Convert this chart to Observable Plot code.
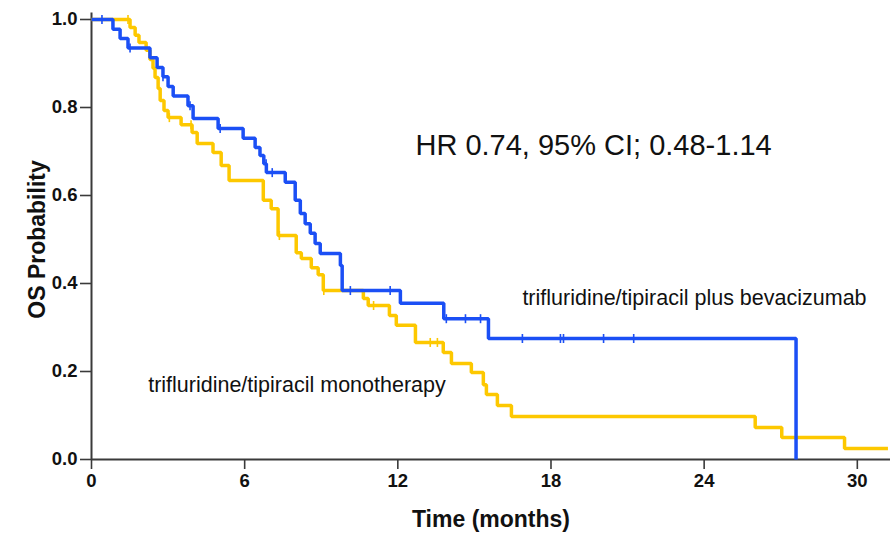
<!DOCTYPE html>
<html>
<head>
<meta charset="utf-8">
<script src="https://cdn.jsdelivr.net/npm/d3@7"></script>
<script src="https://cdn.jsdelivr.net/npm/@observablehq/plot@0.6"></script>
<style>
  html, body { margin: 0; padding: 0; background: #fff; }
  #chart { width: 893px; height: 534px; }
</style>
</head>
<body>
<div id="chart"></div>
<script>
// ---- Data ----
// trifluridine/tipiracil plus bevacizumab: step times (months) and survival after each step
const blueTime = [0, 0.84, 1.12, 1.43, 2.29, 2.57, 2.80, 3.00, 3.20, 3.78, 3.98, 4.96, 5.94, 6.41, 6.60, 6.75, 6.85, 7.59, 7.98, 8.18, 8.37, 8.57, 8.76, 8.96, 9.75, 9.82, 12.10, 13.80, 15.55, 27.60];
const blueSurv = [1.0, 0.978, 0.957, 0.935, 0.913, 0.891, 0.870, 0.848, 0.826, 0.804, 0.775, 0.752, 0.730, 0.709, 0.691, 0.672, 0.652, 0.630, 0.589, 0.559, 0.536, 0.514, 0.491, 0.468, 0.441, 0.384, 0.355, 0.320, 0.275, 0.0];
const blueCensored = [0.41, 1.51, 2.80, 3.86, 5.04, 6.84, 7.08, 10.14, 11.70, 13.90, 14.65, 15.24, 16.88, 18.37, 18.49, 20.06, 21.24];

// trifluridine/tipiracil monotherapy
const yellowTime = [0, 1.51, 1.71, 1.86, 2.14, 2.29, 2.41, 2.49, 2.61, 2.69, 2.84, 3.00, 3.51, 3.94, 4.14, 4.76, 5.08, 5.39, 6.73, 7.04, 7.31, 8.02, 8.22, 8.61, 8.88, 9.08, 10.65, 10.84, 11.67, 11.94, 12.69, 13.78, 14.10, 14.88, 15.35, 15.47, 15.90, 16.45, 26.00, 27.04, 29.50, 31.20];
const yellowSurv = [1.0, 0.982, 0.964, 0.948, 0.930, 0.909, 0.889, 0.868, 0.843, 0.816, 0.793, 0.777, 0.761, 0.743, 0.718, 0.698, 0.668, 0.634, 0.589, 0.570, 0.509, 0.470, 0.457, 0.436, 0.420, 0.384, 0.366, 0.350, 0.327, 0.305, 0.266, 0.243, 0.218, 0.198, 0.170, 0.148, 0.123, 0.098, 0.073, 0.050, 0.025, 0.025];
const yellowCensored = [1.43, 3.05, 3.90, 7.36, 9.10, 11.05, 13.27, 13.55];

const xTicks = [0, 6, 12, 18, 24, 30];
const yTicks = [0, 0.2, 0.4, 0.6, 0.8, 1.0];

const annoText = ["HR 0.74, 95% CI; 0.48-1.14", "trifluridine/tipiracil plus bevacizumab", "trifluridine/tipiracil monotherapy"];
const annoX = [12.69, 16.88, 2.22];
const annoY = [0.714, 0.366, 0.170];

// ---- Build tables ----
const blueColor = "#1b4ff5";
const yellowColor = "#fdc800";

const toRows = (T, S) => T.map((t, i) => ({t, s: S[i]}));
const blue = toRows(blueTime, blueSurv);
const yellow = toRows(yellowTime, yellowSurv);
const survAt = (T, S, t) => { let v = S[0]; for (let i = 0; i < T.length; i++) if (T[i] <= t) v = S[i]; return v; };
const blueCens = blueCensored.map(t => ({t, s: survAt(blueTime, blueSurv, t)}));
const yellowCens = yellowCensored.map(t => ({t, s: survAt(yellowTime, yellowSurv, t)}));
const annos = annoText.map((label, i) => ({label, t: annoX[i], s: annoY[i], size: i === 0 ? 29 : 21.5}));

const vbar = { draw(ctx, size) { const r = Math.sqrt(size / Math.PI); ctx.moveTo(0, -r); ctx.lineTo(0, r); } };
const axisColor = "#3a3a3a";
const font = "'Liberation Sans', Arial, Helvetica, sans-serif";

const chart = Plot.plot({
  width: 893,
  height: 534,
  marginLeft: 91,
  marginRight: 3,
  marginTop: 19,
  marginBottom: 75,
  style: { fontFamily: font, background: "#fff", color: "#111" },
  x: { domain: [0, 31.3] },
  y: { domain: [0, 1] },
  marks: [
    Plot.axisY({ ticks: yTicks, tickFormat: d3.format(".1f"), tickSize: 11, tickPadding: 3, fontSize: 18.5, fontWeight: "bold", stroke: axisColor, strokeWidth: 1.6, label: null, fill: "#111" }),
    Plot.axisX({ ticks: xTicks, tickFormat: d => String(d), tickSize: 10, tickPadding: 4, fontSize: 18.5, fontWeight: "bold", stroke: axisColor, strokeWidth: 1.6, label: null, fill: "#111" }),
    Plot.ruleX([0], { y1: 0, y2: 1.015, stroke: axisColor, strokeWidth: 2 }),
    Plot.ruleY([0], { stroke: axisColor, strokeWidth: 2 }),
    Plot.text(["OS Probability"], { frameAnchor: "left", textAnchor: "middle", lineAnchor: "middle", dx: -54, rotate: -90, fontSize: 23, fontWeight: "bold", fill: "#111" }),
    Plot.text(["Time (months)"], { frameAnchor: "bottom", textAnchor: "middle", lineAnchor: "middle", dy: 60, fontSize: 23, fontWeight: "bold", fill: "#111" }),
    Plot.line(yellow, { x: "t", y: "s", curve: "step-after", stroke: yellowColor, strokeWidth: 3.5, strokeLinejoin: "miter", strokeLinecap: "butt" }),
    Plot.dot(yellowCens, { x: "t", y: "s", symbol: vbar, r: 4.5, stroke: yellowColor, strokeWidth: 1.6, fill: "none" }),
    Plot.line(blue, { x: "t", y: "s", curve: "step-after", stroke: blueColor, strokeWidth: 3.5, strokeLinejoin: "miter", strokeLinecap: "butt" }),
    Plot.dot(blueCens, { x: "t", y: "s", symbol: vbar, r: 4.5, stroke: blueColor, strokeWidth: 1.6, fill: "none" }),
    Plot.text(annos, { x: "t", y: "s", text: "label", fontSize: "size", textAnchor: "start", fill: "#111", fontWeight: "normal" })
  ]
});
document.getElementById("chart").appendChild(chart);
</script>
</body>
</html>
